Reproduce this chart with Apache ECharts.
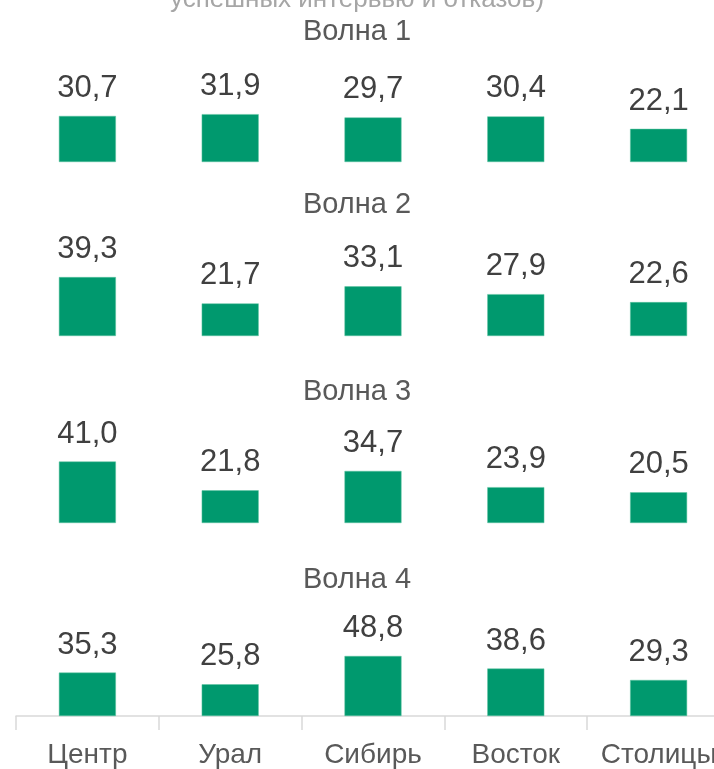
<!DOCTYPE html>
<html>
<head>
<meta charset="utf-8">
<script src="https://cdn.jsdelivr.net/npm/echarts@6/dist/echarts.min.js"></script>
<style>
  html, body { margin: 0; padding: 0; background: #fff; }
  #chart { width: 714px; height: 769px; }
</style>
</head>
<body>
<div id="chart"></div>
<script>
const categories = ['Центр', 'Урал', 'Сибирь', 'Восток', 'Столицы']
const waveNames = ['Волна 1', 'Волна 2', 'Волна 3', 'Волна 4']
const wave1 = [30.7, 31.9, 29.7, 30.4, 22.1]
const wave2 = [39.3, 21.7, 33.1, 27.9, 22.6]
const wave3 = [41.0, 21.8, 34.7, 23.9, 20.5]
const wave4 = [35.3, 25.8, 48.8, 38.6, 29.3]
const waves = [wave1, wave2, wave3, wave4]

const font = '"Liberation Sans", Arial, sans-serif'
// bottom edge of each panel and height of the panel (y max = 50)
const panelBottom = [162, 336, 523, 716]
const panelHeight = [75, 75, 75, 61.5]
const titleY = [30, 203, 390, 578]

const myChart = echarts.init(document.getElementById('chart'))

let titles = [{
    text: 'успешных интервью и отказов)',
    left: 'center',
    top: -13,
    padding: 0,
    textStyle: { fontFamily: font, fontSize: 26, fontWeight: 'normal', color: '#a6a6a6' }
}]
let grids = [], xAxes = [], yAxes = [], series = []

waves.forEach((data, i) => {
    const last = i === waves.length - 1
    titles.push({
        text: waveNames[i],
        left: 'center',
        top: titleY[i] - 13,
        padding: 0,
        textStyle: { fontFamily: font, fontSize: 29, fontWeight: 'normal', color: '#595959' }
    })
    grids.push({
        left: 16,
        width: 714,
        outerBoundsMode: 'none',
        top: panelBottom[i] - panelHeight[i],
        height: panelHeight[i]
    })
    xAxes.push({
        type: 'category',
        gridIndex: i,
        data: categories,
        axisLine: { show: last, lineStyle: { color: '#d9d9d9', width: 1.5 } },
        axisTick: { show: last, length: 14, lineStyle: { color: '#d9d9d9', width: 1.5 } },
        axisLabel: {
            show: last,
            interval: 0,
            margin: 25,
            fontFamily: font,
            fontSize: 28,
            color: '#595959'
        }
    })
    yAxes.push({
        type: 'value',
        gridIndex: i,
        min: 0,
        max: 50,
        show: false,
        splitLine: { show: false }
    })
    series.push({
        type: 'bar',
        xAxisIndex: i,
        yAxisIndex: i,
        data: data,
        barWidth: 57,
        itemStyle: { color: '#00996e', borderColor: '#5cc4a0', borderWidth: 0.5 },
        label: {
            show: true,
            position: 'top',
            distance: 12,
            fontFamily: font,
            fontSize: 31,
            color: '#404040',
            formatter: (p) => p.value.toFixed(1).replace('.', ',')
        }
    })
})

let option = {
    animation: false,
    title: titles,
    grid: grids,
    xAxis: xAxes,
    yAxis: yAxes,
    series: series
}

option && myChart.setOption(option)
</script>
</body>
</html>
